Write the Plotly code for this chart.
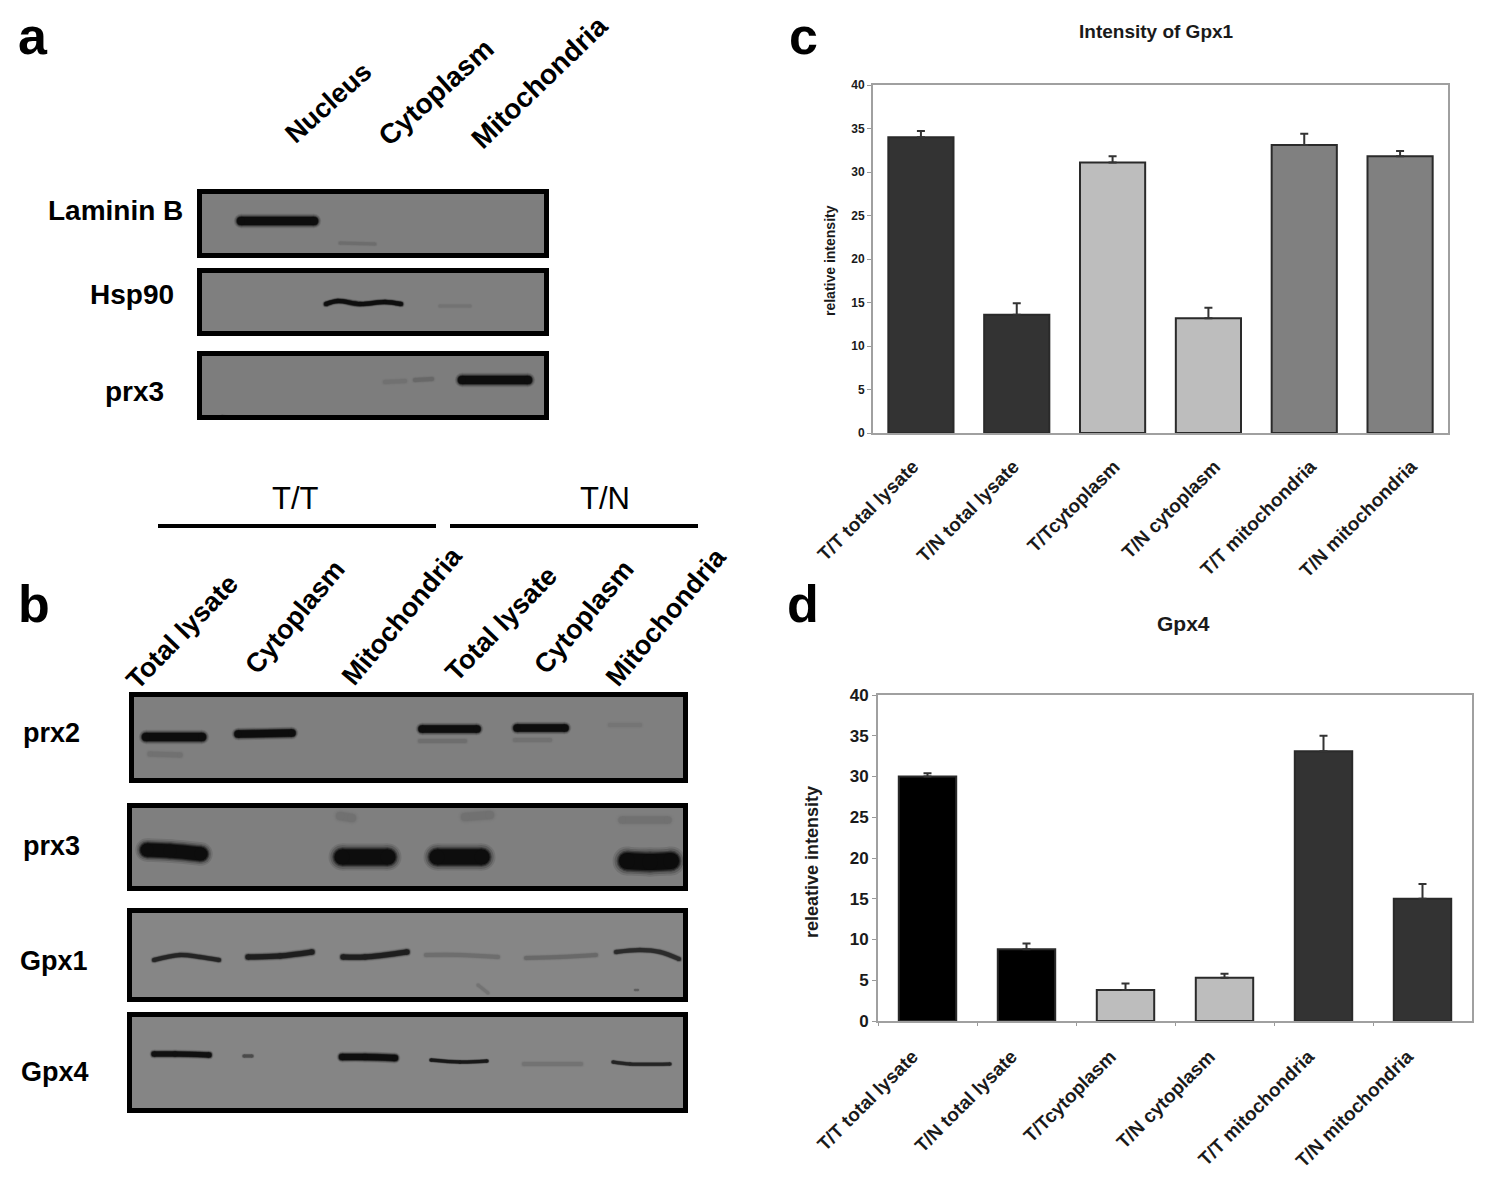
import plotly.graph_objects as go

PAGE_W, PAGE_H = 1500, 1194
PAGE_MARGIN = 8  # the browser's default body margin
W, H = PAGE_W - PAGE_MARGIN, PAGE_H - PAGE_MARGIN
FONT = "Liberation Sans"

# ---- bar chart data ----
CATEGORIES = ["T/T total lysate", "T/N total lysate", "T/Tcytoplasm",
              "T/N cytoplasm", "T/T mitochondria", "T/N mitochondria"]
GPX1_VALUES = [34.0, 13.6, 31.1, 13.2, 33.1, 31.8]
GPX1_ERRORS = [0.7, 1.3, 0.7, 1.2, 1.3, 0.6]
GPX1_COLORS = ["#333333", "#333333", "#bdbdbd", "#bdbdbd", "#808080", "#808080"]
GPX1_BAR_SLOTS = [0, 1, 2, 3, 4, 5]
GPX1_LABEL_SLOTS = [0, 1.05, 2.1, 3.15, 4.15, 5.2]
GPX4_VALUES = [30.0, 8.8, 3.8, 5.3, 33.1, 15.0]
GPX4_ERRORS = [0.4, 0.7, 0.8, 0.5, 1.9, 1.8]
GPX4_COLORS = ["#000000", "#000000", "#bdbdbd", "#bdbdbd", "#333333", "#333333"]
Y_TICKS = [0, 5, 10, 15, 20, 25, 30, 35, 40]

# ---- blot data: each band = (xs, ys, thickness, darkness 0..1) ----
LAMININ_A = [([241, 314], [221, 221], 8, 0.95), ([340, 375], [243, 244], 3, 0.05)]
HSP90_A = [([326, 338, 360, 385, 401], [304, 301, 304, 302, 304], 4, 0.9),
           ([440, 470], [306, 306], 3, 0.03)]
PRX3_A = [([462, 528], [380, 380], 8, 0.95), ([385, 405], [382, 381], 4, 0.03),
          ([415, 432], [380, 379], 4, 0.07), ([222, 232], [416, 417], 2, 0.25)]
PRX2_B = [([146, 202], [737, 737], 8, 0.95), ([238, 292], [734, 733], 7, 0.95),
          ([422, 477], [729, 729], 7, 0.95), ([517, 565], [728, 728], 7, 0.95),
          ([150, 180], [754, 755], 5, 0.04), ([420, 465], [741, 741], 4, 0.05),
          ([515, 550], [740, 740], 4, 0.04), ([610, 640], [725, 725], 4, 0.025)]
PRX3_B = [([147, 170, 201], [850, 851, 854], 13, 0.95),
          ([342, 388], [857, 857], 15, 0.95), ([437, 482], [857, 857], 15, 0.95),
          ([627, 650, 671], [861, 862, 861], 16, 0.97),
          ([340, 352], [816, 818], 8, 0.04), ([465, 490], [817, 815], 8, 0.04),
          ([622, 668], [820, 820], 7, 0.04)]
GPX1_B = [([154, 180, 200, 219], [960, 955, 957, 960], 4, 0.55),
          ([248, 280, 312], [957, 956, 952], 5, 0.62),
          ([343, 365, 407], [957, 957, 952], 5, 0.62),
          ([426, 460, 498], [955, 955, 957], 4, 0.08),
          ([526, 560, 596], [958, 957, 955], 4, 0.1),
          ([616, 640, 660, 679], [952, 950, 952, 959], 4, 0.48),
          ([478, 488], [985, 993], 3, 0.06), ([635, 638], [990, 990], 2, 0.15)]
GPX4_B = [([154, 175, 209], [1054, 1054, 1055], 5, 0.85),
          ([244, 252], [1056, 1056], 3, 0.25),
          ([342, 365, 395], [1057, 1057, 1058], 6, 0.9),
          ([431, 460, 487], [1060, 1062, 1061], 3, 0.7),
          ([524, 581], [1064, 1064], 4, 0.05),
          ([613, 630, 670], [1062, 1064, 1064], 3, 0.55)]

# name, panel outer box (left, top, right, bottom), background, bands
PANELS = [
    ("Laminin B", (197, 189, 549, 258), "#7e7e7e", LAMININ_A),
    ("Hsp90", (197, 268, 549, 336), "#7f7f7f", HSP90_A),
    ("prx3 (a)", (197, 351, 549, 420), "#7d7d7d", PRX3_A),
    ("prx2", (129, 692, 688, 783), "#7f7f7f", PRX2_B),
    ("prx3 (b)", (127, 803, 688, 891), "#7f7f7f", PRX3_B),
    ("Gpx1", (127, 908, 688, 1002), "#868686", GPX1_B),
    ("Gpx4", (127, 1012, 688, 1113), "#858585", GPX4_B),
]
BORDER = 5

fig = go.Figure()
layout = {}


def px(x):
    return (x - PAGE_MARGIN) / W


def py(y):
    return 1 - (y - PAGE_MARGIN) / H


def add_bar_chart(idx, xs, values, errors, colors, box, gap, tick_size, label_size,
                  shift, standoff, x_extra):
    l, t, r, b = box
    fig.add_trace(go.Bar(
        x=xs, y=values, marker=dict(color=colors, line=dict(color="#2a2a2a", width=2)),
        error_y=dict(type="data", symmetric=False, array=errors, arrayminus=[0] * 6,
                     color="#333333", thickness=2, width=4),
        width=1 - gap, showlegend=False, hoverinfo="skip", xaxis=f"x{idx}", yaxis=f"y{idx}"))
    layout[f"xaxis{idx}"] = dict(
        domain=[px(l), px(r)], anchor=f"y{idx}", tickangle=-45, automargin=False,
        ticklabelshift=shift, ticklabelstandoff=standoff,
        showline=True, linecolor="#a0a0a0", linewidth=2, mirror=True, showgrid=False,
        zeroline=False, tickfont=dict(family=FONT, size=label_size, color="#1a1a1a", weight=700),
        **x_extra)
    layout[f"yaxis{idx}"] = dict(
        domain=[py(b), py(t)], anchor=f"x{idx}", range=[0, 40], tickvals=Y_TICKS, automargin=False,
        ticks="outside", ticklen=4, tickcolor="#999999", showline=True, linecolor="#a0a0a0",
        linewidth=2, mirror=True, showgrid=False, zeroline=False,
        tickfont=dict(family=FONT, size=tick_size, color="#1a1a1a", weight=700))


add_bar_chart(1, GPX1_BAR_SLOTS, GPX1_VALUES, GPX1_ERRORS, GPX1_COLORS, (873, 85, 1448, 433),
              0.32, 12, 19, -8, 13,
              dict(type="linear", range=[-0.5, 5.5], tickvals=GPX1_LABEL_SLOTS,
                   ticktext=CATEGORIES, ticks=""))
add_bar_chart(2, CATEGORIES, GPX4_VALUES, GPX4_ERRORS, GPX4_COLORS, (878, 695, 1472, 1021),
              0.42, 17, 19, -15, 15,
              dict(type="category", tickson="boundaries", ticks="outside", ticklen=3,
                   tickcolor="#999999"))

for n, (name, (l, t, r, b), bg, bands) in enumerate(PANELS, start=3):
    xa, ya = f"x{n}", f"y{n}"
    for xs, ys, thick, dark in bands:
        for factor, alpha in ((1.8, 0.12), (1.55, 0.2), (1.3, 0.35), (1.15, 0.55), (1.0, 1.0)):
            fig.add_trace(go.Scatter(
                x=xs, y=ys, mode="lines+markers", opacity=alpha * dark,
                line=dict(color="#0c0c0c", width=thick * factor, shape="spline"),
                marker=dict(color="#0c0c0c", size=thick * factor),
                showlegend=False, hoverinfo="skip", xaxis=xa, yaxis=ya))
    layout[f"xaxis{n}"] = dict(
        domain=[px(l + BORDER), px(r - BORDER)], range=[l + BORDER, r - BORDER], anchor=ya,
        showline=True, linecolor="#000000", linewidth=BORDER, mirror=True, automargin=False,
        showticklabels=False, ticks="", showgrid=False, zeroline=False)
    layout[f"yaxis{n}"] = dict(
        domain=[py(b - BORDER), py(t + BORDER)], range=[b - BORDER, t + BORDER], anchor=xa,
        showline=True, linecolor="#000000", linewidth=BORDER, mirror=True, automargin=False,
        showticklabels=False, ticks="", showgrid=False, zeroline=False)

annotations = []


def label(text, x, y, size, angle=0, weight=700, color="#000000"):
    annotations.append(dict(
        text=text, x=px(x), y=py(y), xref="paper", yref="paper", showarrow=False,
        textangle=angle, xanchor="center", yanchor="middle",
        font=dict(family=FONT, size=size, color=color, weight=weight)))


for t, x, y in (("a", 33, 36), ("b", 34, 604), ("c", 803, 36), ("d", 803, 604)):
    label(t, x, y, 52)
label("Intensity of Gpx1", 1156, 32, 19, color="#1a1a1a")
label("Gpx4", 1183, 623, 21, color="#1a1a1a")
label("relative intensity", 830, 261, 14, -90, color="#1a1a1a")
label("releative intensity", 812, 862, 18, -90, color="#1a1a1a")

label("Laminin B", 115, 210, 28)
label("Hsp90", 132, 294, 28)
label("prx3", 134, 391, 28)
label("prx2", 51, 733, 27)
label("prx3", 51, 846, 27)
label("Gpx1", 54, 961, 27)
label("Gpx4", 55, 1072, 27)

label("Nucleus", 328, 103, 27, -42)
label("Cytoplasm", 436, 93, 28, -42)
label("Mitochondria", 539, 82, 28, -44)
label("Total lysate", 182, 632, 27, -46)
label("Cytoplasm", 295, 617, 27, -50)
label("Mitochondria", 402, 616, 27, -50)
label("Total lysate", 501, 624, 27, -46)
label("Cytoplasm", 584, 617, 27, -50)
label("Mitochondria", 666, 617, 27, -50)
label("T/T", 295, 499, 31, weight=400)
label("T/N", 605, 499, 31, weight=400)

shapes = [
    dict(type="line", xref="paper", yref="paper", x0=px(158), x1=px(436), y0=py(526), y1=py(526),
         line=dict(color="#000000", width=4)),
    dict(type="line", xref="paper", yref="paper", x0=px(450), x1=px(698), y0=py(526), y1=py(526),
         line=dict(color="#000000", width=4)),
]

# panel backgrounds behind the traces
for name, (l, t, r, b), bg, bands in PANELS:
    shapes.append(dict(type="rect", xref="paper", yref="paper", layer="below",
                       x0=px(l), x1=px(r), y0=py(b), y1=py(t), fillcolor=bg, line_width=0))

fig.update_layout(width=W, height=H, margin=dict(l=0, r=0, t=0, b=0, autoexpand=False),
                  paper_bgcolor="#ffffff", plot_bgcolor="rgba(0,0,0,0)",
                  showlegend=False, annotations=annotations, shapes=shapes, **layout)
fig.write_html("out.html")
